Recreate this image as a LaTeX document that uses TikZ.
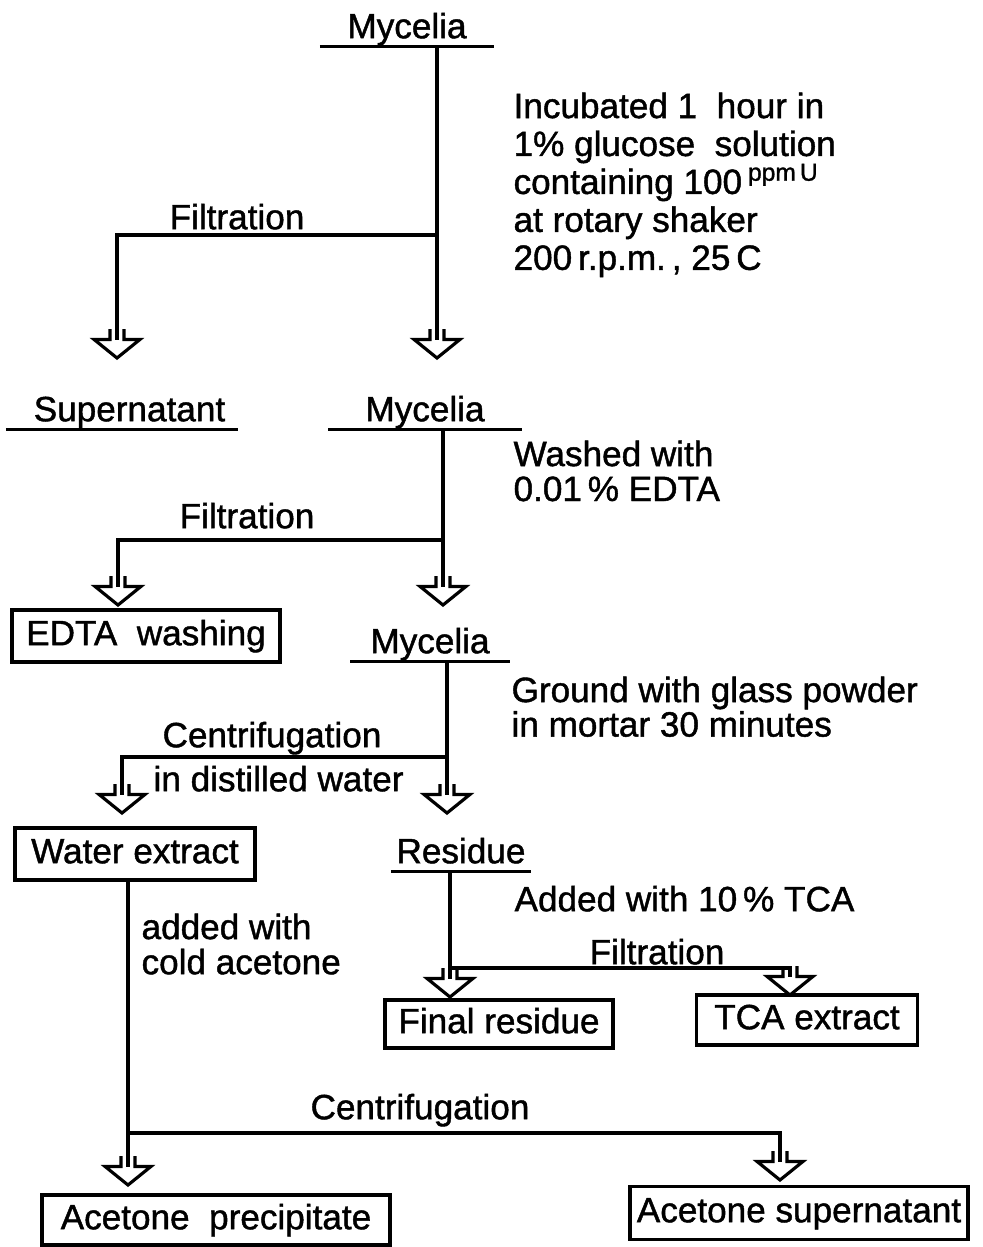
\documentclass[tikz,border=0pt]{standalone}
\usepackage{fontspec}
\setmainfont{Liberation Sans}[RawFeature={embolden=1.2}]
% open block arrow with a short stem
\pgfdeclarearrow{
  name = Hollow,
  setup code = {
    \pgfarrowssettipend{0pt}
    \pgfarrowssetlineend{-10.5pt}
    \pgfarrowssetbackend{-16.5pt}
    \pgfarrowssetvisualbackend{-16.5pt}
    \pgfarrowshullpoint{0pt}{0pt}
    \pgfarrowsupperhullpoint{-16.5pt}{13pt}
  },
  drawing code = {
    \pgfsetdash{}{0pt}
    \pgfsetmiterjoin
    \pgfpathmoveto{\pgfqpoint{-16.5pt}{4pt}}
    \pgfpathlineto{\pgfqpoint{-10.5pt}{4pt}}
    \pgfpathlineto{\pgfqpoint{-10.5pt}{13pt}}
    \pgfpathlineto{\pgfqpoint{0pt}{0pt}}
    \pgfpathlineto{\pgfqpoint{-10.5pt}{-13pt}}
    \pgfpathlineto{\pgfqpoint{-10.5pt}{-4pt}}
    \pgfpathlineto{\pgfqpoint{-16.5pt}{-4pt}}
    \pgfusepathqstroke
  }
}
\begin{document}
\begin{tikzpicture}[x=0.02cm,y=-0.02cm,line width=1.8pt,
  txt/.style={font=\fontsize{20}{22}\selectfont,inner sep=0pt,
    text height=14.5pt,text depth=4pt},
  head/.style={txt,minimum width=#1},
  note/.style={inner sep=0pt,anchor=north west,align=left},
  box/.style={txt,draw,line width=1.8pt},
  flow/.style={-Hollow}]
\useasboundingbox (0,0) rectangle (983,1247);
% headings with underline
\node[head=3.42cm] (myc1) at (407,29) {Mycelia};
\node[head=4.58cm] (sup) at (122,412) {\hspace{0.3cm}Supernatant};
\node[head=3.8cm] (myc2) at (425,412) {Mycelia};
\node[head=3.12cm] (myc3) at (430,644) {Mycelia};
\node[head=2.74cm] (res) at (461,854) {Residue};
\foreach \n in {myc1,sup,myc2,myc3,res}
  \draw (\n.south west) -- (\n.south east);
% boxes
\node[box,minimum width=5.36cm,minimum height=1.04cm] (edta) at (146,636) {EDTA\ \ washing};
\node[box,minimum width=4.8cm,minimum height=1.04cm] (water) at (135,854) {Water extract};
\node[box,minimum width=4.56cm,minimum height=0.96cm] (final) at (499,1024) {Final residue};
\node[box,minimum width=4.42cm,minimum height=1.0cm] (tca) at (807,1020) {TCA extract};
\node[box,minimum width=6.96cm,minimum height=1.0cm] (prec) at (216,1220) {Acetone\ \ precipitate};
\node[box,minimum width=6.76cm,minimum height=1.06cm] (supn) at (799,1213) {Acetone supernatant};
% step labels
\node[txt] (filt1) at (237,220) {Filtration};
\node[txt] (filt2) at (247,519) {Filtration};
\node[txt] (cent1) at (272,738) {Centrifugation};
\node[txt] (filt3) at (657,955) {Filtration};
\node[txt] (cent2) at (420,1110) {Centrifugation};
\node[note,font=\fontsize{20}{21.6}\selectfont] (incub) at (512,91)
  {Incubated\ 1\ \ hour in\\1\% glucose\ \ solution\\containing 100\,\textsuperscript{ppm\,U}\\at rotary shaker\\200\,r.p.m.\,, 25\,C};
\node[note,font=\fontsize{20}{19.9}\selectfont] (wash) at (512,439) {Washed\ with\\0.01\,\%\ EDTA};
\node[note,font=\fontsize{20}{18.2}\selectfont] (ground) at (510,675) {Ground\ with\ glass\ powder\\in\ mortar\ 30\ minutes};
\node[txt,anchor=west] (dist) at (152,782) {in distilled water};
\node[txt,anchor=west] (addtca) at (513,902) {Added\ with\ 10\,\%\ TCA};
\node[note,font=\fontsize{20}{20}\selectfont] (acet) at (140,912) {added\ with\\cold acetone};
% branch points and arrow ends
\coordinate (j1) at (437,235);
\coordinate (j2) at (443,540);
\coordinate (j3) at (447,757);
\coordinate (j4) at (450,968);
\coordinate (j5) at (128,1133);
\coordinate (a1) at (117,358);
\coordinate (a2) at (437,358);
\coordinate (a3) at (118,605);
\coordinate (a4) at (443,605);
\coordinate (a5) at (122,813);
\coordinate (a6) at (447,813);
\coordinate (a7) at (450,997);
\coordinate (a8) at (790,995);
\coordinate (a9) at (128,1185);
\coordinate (a10) at (780,1180);
% connectors
\draw[flow] (myc1.south -| j1) -- (a2);
\draw[flow] (j1) -| (a1);
\draw[flow] (myc2.south -| j2) -- (a4);
\draw[flow] (j2) -| (a3);
\draw[flow] (myc3.south -| j3) -- (a6);
\draw[flow] (j3) -| (a5);
\draw[flow] (res.south -| j4) -- (a7);
\draw[flow] (j4) -| (a8);
\draw[flow] (water.south -| j5) -- (a9);
\draw[flow] (j5) -| (a10);
\end{tikzpicture}
\end{document}
